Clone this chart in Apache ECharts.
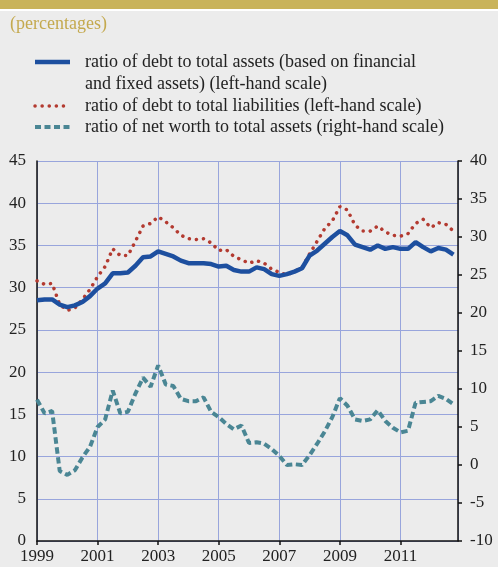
<!DOCTYPE html>
<html>
<head>
<meta charset="utf-8">
<script src="https://cdn.jsdelivr.net/npm/echarts@6/dist/echarts.min.js"></script>
<style>
  html, body { margin: 0; padding: 0; background: #ececec; }
  #chart { width: 498px; height: 567px; }
</style>
</head>
<body>
<div id="chart"></div>
<script>
// quarterly observations, 1999 Q1 .. 2012 Q4
var startYear = 1999;
var debtToAssets = [
  28.5, 28.6, 28.6, 28.0, 27.7, 27.9, 28.3, 29.0,
  29.9, 30.5, 31.7, 31.7, 31.8, 32.6, 33.6, 33.7,
  34.3, 34.0, 33.7, 33.2, 32.9, 32.9, 32.9, 32.8,
  32.5, 32.6, 32.1, 31.9, 31.9, 32.4, 32.2, 31.6,
  31.4, 31.6, 31.9, 32.3, 33.8, 34.4, 35.2, 36.0,
  36.7, 36.2, 35.1, 34.8, 34.5, 35.0, 34.6, 34.8,
  34.6, 34.6, 35.4, 34.8, 34.3, 34.7, 34.5, 33.9
];
var debtToLiabilities = [
  30.8, 30.4, 30.5, 28.0, 27.3, 27.6, 28.6, 29.8,
  31.3, 32.5, 34.6, 33.8, 33.8, 35.5, 37.3, 37.6,
  38.4, 37.8, 37.1, 36.2, 35.8, 35.7, 35.8, 35.3,
  34.4, 34.5, 33.7, 33.3, 32.9, 33.2, 32.9, 32.2,
  31.8, 31.5, 31.9, 32.4, 34.0, 35.5, 37.0, 37.9,
  39.6, 39.2, 37.4, 36.7, 36.7, 37.3, 36.6, 36.2,
  36.1, 36.4, 37.6, 38.1, 37.1, 37.7, 37.5, 36.7
];
var netWorthToAssets = [
  8.6, 6.8, 7.1, -0.8, -1.3, -0.7, 1.0, 2.4,
  5.0, 6.0, 9.8, 6.8, 7.0, 9.4, 11.5, 10.3,
  13.1, 10.6, 10.4, 8.7, 8.4, 8.4, 8.9, 7.0,
  6.3, 5.4, 4.7, 5.2, 2.9, 3.0, 2.8, 2.1,
  1.2, 0.0, 0.1, 0.0, 1.3, 2.8, 4.4, 6.3,
  8.8, 7.8, 6.0, 5.8, 6.0, 7.2, 5.8, 4.9,
  4.3, 4.5, 8.2, 8.3, 8.4, 9.1, 8.7, 8.0
];
var legendNames = [
  'ratio of debt to total assets (based on financial\nand fixed assets) (left-hand scale)',
  'ratio of debt to total liabilities (left-hand scale)',
  'ratio of net worth to total assets (right-hand scale)'
];
var unitLabel = '(percentages)';

var font = '"Liberation Serif", "DejaVu Serif", serif';
var colBlue = '#1d4f9f', colRed = '#b33a30', colTeal = '#4a8694';

function pairs(vals) {
  var out = [];
  for (var i = 0; i < vals.length; i++) {
    out.push([startYear + i / 4, vals[i]]);
  }
  return out;
}

var legendRows = [
  {y: 62, textY: 51, style: {stroke: colBlue, lineWidth: 4.5}},
  {y: 106, textY: 95, style: {stroke: colRed, lineWidth: 3.5, lineDash: [0.1, 7], lineCap: 'round'}},
  {y: 127, textY: 116, style: {stroke: colTeal, lineWidth: 4, lineDash: [6, 3.5]}}
];
var graphics = [
  {type: 'rect', left: 0, top: 0, shape: {width: 498, height: 9}, style: {fill: '#c9b35a'}},
  {type: 'rect', left: 0, top: 9, shape: {width: 498, height: 2}, style: {fill: '#ffffff'}},
  {type: 'text', left: 10, top: 15, style: {text: unitLabel, fill: '#c4a94e', font: '18px ' + font}}
];
legendRows.forEach(function (r, i) {
  graphics.push({type: 'line', shape: {x1: 35, y1: r.y, x2: 70, y2: r.y}, style: r.style});
  graphics.push({type: 'text', left: 85, top: r.textY,
    style: {text: legendNames[i], fill: '#222', font: '18px ' + font, lineHeight: 22}});
});

var chart = echarts.init(document.getElementById('chart'));
chart.setOption({
  backgroundColor: '#ececec',
  animation: false,
  graphic: graphics,
  grid: {left: 37, right: 40, top: 161, bottom: 26},
  xAxis: {
    type: 'value',
    min: 1999,
    max: 2012.9,
    interval: 2,
    axisLine: {lineStyle: {color: '#111', width: 1.5}},
    axisTick: {show: true, length: 4, lineStyle: {color: '#111', width: 1.5}},
    axisLabel: {
      color: '#222', fontFamily: font, fontSize: 17, margin: 7,
      showMaxLabel: false,
      formatter: function (v) { return String(Math.round(v)); }
    },
    splitLine: {show: true, lineStyle: {color: '#98a5dc', width: 1}}
  },
  yAxis: [
    {
      type: 'value', min: 0, max: 45, interval: 5,
      axisLine: {show: true, lineStyle: {color: '#111', width: 1.5}},
      axisTick: {show: false},
      axisLabel: {color: '#222', fontFamily: font, fontSize: 17, margin: 11},
      splitLine: {show: true, lineStyle: {color: '#98a5dc', width: 1}}
    },
    {
      type: 'value', min: -10, max: 40, interval: 5, position: 'right',
      axisLine: {show: true, lineStyle: {color: '#111', width: 1.5}},
      axisTick: {show: true, length: 4, lineStyle: {color: '#111', width: 1.5}},
      axisLabel: {color: '#222', fontFamily: font, fontSize: 17, margin: 12},
      splitLine: {show: false}
    }
  ],
  series: [
    {
      type: 'line', yAxisIndex: 1, data: pairs(netWorthToAssets),
      symbol: 'none', z: 3,
      lineStyle: {color: colTeal, width: 4, type: [6.5, 3.5]}
    },
    {
      type: 'line', yAxisIndex: 0, data: pairs(debtToLiabilities),
      symbol: 'none', z: 4,
      lineStyle: {color: colRed, width: 3.5, type: [0.1, 7], cap: 'round'}
    },
    {
      type: 'line', yAxisIndex: 0, data: pairs(debtToAssets),
      symbol: 'none', z: 5,
      lineStyle: {color: colBlue, width: 4.5}
    }
  ]
});
</script>
</body>
</html>
